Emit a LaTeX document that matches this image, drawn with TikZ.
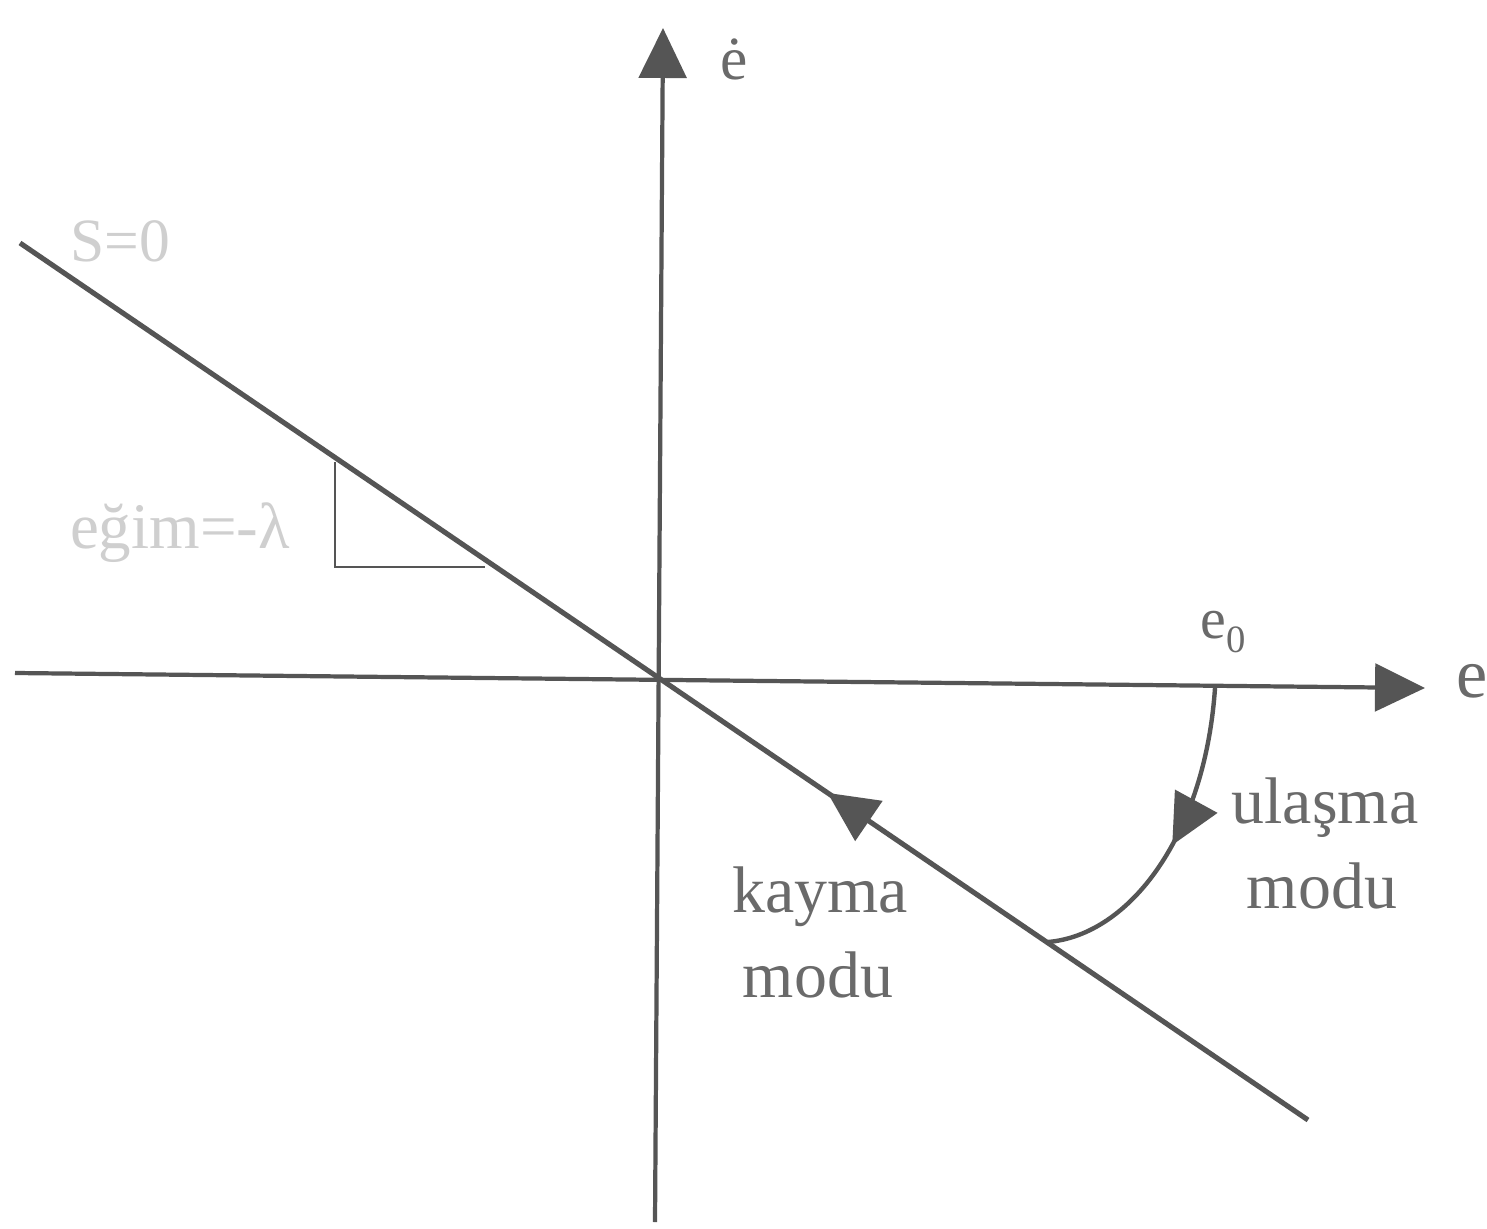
\documentclass[tikz,border=0pt]{standalone}
\usepackage{fontspec}
\setmainfont{Liberation Serif}
\usetikzlibrary{arrows.meta,calc,decorations.markings}
\definecolor{linec}{HTML}{555555}
\definecolor{textc}{HTML}{6A6A6A}
\definecolor{fadec}{HTML}{CFCFCF}
\tikzset{
  axis/.style={draw=linec,line width=2.4pt},
  slide/.style={draw=linec,line width=2.9pt},
  tip/.style={-{Triangle[length=1cm,width=0.95cm]}},
  lbl/.style={text=textc,font=\fontsize{37.5}{48}\selectfont,inner sep=0pt,anchor=base},
  faint/.style={text=fadec,font=\fontsize{35}{42}\selectfont,inner sep=0pt,anchor=base}
}
\begin{document}
\begin{tikzpicture}[x={(0.02cm,0)},y={(0,-0.02cm)}]
\useasboundingbox[fill=white] (0,0) rectangle (1487,1229);
% coordinates
\coordinate (xl) at (15,673);
\coordinate (xr) at (1425,688);
\coordinate (yb) at (655,1222);
\coordinate (yt) at (663,28);
\coordinate (S1) at (20,243);
\coordinate (S2) at (1308,1120);
\coordinate (e0) at (1215,688);
\coordinate (P) at (1048,942);
\coordinate (kb) at ($(S1)!0.659!(S2)$);
\coordinate (kt) at ($(S1)!0.627!(S2)$);
\coordinate (t1) at (335,462);
\coordinate (t2) at (335,567);
\coordinate (t3) at (485,567);
% axes
\draw[axis,tip] (xl) -- (xr);
\draw[axis,tip] (yb) -- (yt);
% sliding surface
\draw[slide] (S1) -- (S2);
% slope triangle
\draw[linec,line width=1.3pt] (t1) -- (t2) -- (t3);
% sliding mode arrow
\draw[slide,tip] (kb) -- (kt);
% reaching curve
\draw[linec,line width=2.5pt,
  decoration={markings,mark=at position 0.5 with {\arrow{Triangle[length=1cm,width=0.95cm]}}},
  postaction={decorate}]
  (e0) .. controls (1205,835) and (1130,935) .. (P);
% labels
\node[lbl,font=\fontsize{35}{42}\selectfont] (edot) at (734,80) {ė};
\node[lbl,font=\fontsize{40}{48}\selectfont] (elab) at (1472,697) {e};
\node[lbl,font=\fontsize{33}{40}\selectfont,anchor=base west] (e0lab) at (1200,638) {e\raisebox{-0.55ex}{\fontsize{22}{26}\selectfont 0}};
\node[faint] (s0) at (120,262) {S=0};
\node[faint,font=\fontsize{37}{44}\selectfont] (egim) at (180,548) {eğim=-λ};
\node[lbl] (ulasma1) at (1325,823) {ulaşma};
\node[lbl] (ulasma2) at (1322,908) {modu};
\node[lbl] (kayma1) at (820,912) {kayma};
\node[lbl] (kayma2) at (818,997) {modu};
\end{tikzpicture}
\end{document}
